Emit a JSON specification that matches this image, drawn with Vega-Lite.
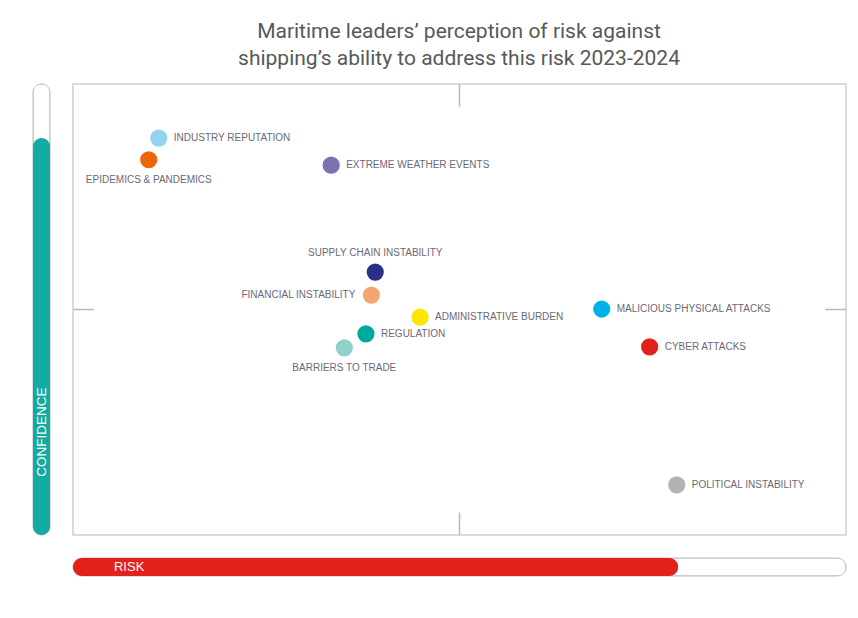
{
  "$schema": "https://vega.github.io/schema/vega-lite/v6.json",
  "background": "white",
  "padding": {"left": 32, "top": 20, "right": 13, "bottom": 10},
  "config": {"view": {"stroke": null}, "font": "Liberation Sans"},
  "title": {
    "text": ["Maritime leaders’ perception of risk against", "shipping’s ability to address this risk 2023-2024"],
    "font": "Roboto",
    "fontSize": 21,
    "fontWeight": "normal",
    "color": "#58585a",
    "anchor": "middle",
    "lineHeight": 27,
    "dx": 19,
    "offset": 14
  },
  "datasets": {
    "risks": [
      {"name": "INDUSTRY REPUTATION", "risk": 11.1, "confidence": 88.0},
      {"name": "EPIDEMICS & PANDEMICS", "risk": 9.8, "confidence": 83.2},
      {"name": "EXTREME WEATHER EVENTS", "risk": 33.4, "confidence": 82.0},
      {"name": "SUPPLY CHAIN INSTABILITY", "risk": 39.1, "confidence": 58.3},
      {"name": "FINANCIAL INSTABILITY", "risk": 38.6, "confidence": 53.2},
      {"name": "ADMINISTRATIVE BURDEN", "risk": 44.9, "confidence": 48.3},
      {"name": "REGULATION", "risk": 37.9, "confidence": 44.6},
      {"name": "BARRIERS TO TRADE", "risk": 35.1, "confidence": 41.5},
      {"name": "MALICIOUS PHYSICAL ATTACKS", "risk": 68.4, "confidence": 50.1},
      {"name": "CYBER ATTACKS", "risk": 74.6, "confidence": 41.7},
      {"name": "POLITICAL INSTABILITY", "risk": 78.1, "confidence": 11.1}
    ],
    "cross": [
      {"x": 50, "x2": 50, "y": 100, "y2": 95},
      {"x": 50, "x2": 50, "y": 0, "y2": 5},
      {"x": 0, "x2": 2.7, "y": 50, "y2": 50},
      {"x": 97.3, "x2": 100, "y": 50, "y2": 50}
    ],
    "confidence": [{"label": "CONFIDENCE", "total": 100, "value": 88}],
    "riskbar": [{"label": "RISK", "total": 100, "value": 78.3}]
  },
  "spacing": 20,
  "hconcat": [
    {
      "width": 17,
      "height": 451,
      "data": {"name": "confidence"},
      "encoding": {
        "x": {"field": "label", "type": "nominal", "axis": null, "scale": {"paddingInner": 0, "paddingOuter": 0}}
      },
      "layer": [
        {
          "mark": {"type": "bar", "fill": "white", "stroke": "#bdbdbd", "strokeWidth": 1, "cornerRadius": 8.5},
          "encoding": {
            "y": {"field": "total", "type": "quantitative", "scale": {"domain": [0, 100]}, "axis": null}
          }
        },
        {
          "mark": {"type": "bar", "fill": "#12aba1", "cornerRadius": 8.5},
          "encoding": {
            "y": {"field": "value", "type": "quantitative", "scale": {"domain": [0, 100]}, "axis": null}
          }
        },
        {
          "mark": {"type": "text", "angle": 270, "align": "center", "baseline": "middle", "fontSize": 13.5, "fill": "white"},
          "encoding": {
            "y": {"datum": 22.8, "type": "quantitative", "scale": {"domain": [0, 100]}, "axis": null},
            "text": {"field": "label"}
          }
        }
      ]
    },
    {
      "spacing": 20,
      "vconcat": [
        {
          "width": 773,
          "height": 451,
          "view": {"stroke": "#cfcfcf", "strokeWidth": 1.5},
          "data": {"name": "risks"},
          "layer": [
            {
              "data": {"name": "cross"},
              "mark": {"type": "rule", "color": "#b8b8b8", "strokeWidth": 1.5},
              "encoding": {
                "x": {"field": "x", "type": "quantitative", "scale": {"domain": [0, 100]}, "axis": null},
                "x2": {"field": "x2"},
                "y": {"field": "y", "type": "quantitative", "scale": {"domain": [0, 100]}, "axis": null},
                "y2": {"field": "y2"}
              }
            },
            {
              "mark": {"type": "circle", "size": 295, "opacity": 1},
              "encoding": {
                "x": {"field": "risk", "type": "quantitative", "scale": {"domain": [0, 100]}, "axis": null},
                "y": {"field": "confidence", "type": "quantitative", "scale": {"domain": [0, 100]}, "axis": null},
                "color": {
                  "field": "name", "type": "nominal", "legend": null,
                  "scale": {
                    "domain": ["INDUSTRY REPUTATION", "EPIDEMICS & PANDEMICS", "EXTREME WEATHER EVENTS", "SUPPLY CHAIN INSTABILITY", "FINANCIAL INSTABILITY", "ADMINISTRATIVE BURDEN", "REGULATION", "BARRIERS TO TRADE", "MALICIOUS PHYSICAL ATTACKS", "CYBER ATTACKS", "POLITICAL INSTABILITY"],
                    "range": ["#92d3f0", "#ec6608", "#7d70b3", "#2b3186", "#f4a672", "#ffe600", "#00a99d", "#92d0cb", "#00b1e7", "#e2211c", "#b2b2b2"]
                  }
                }
              }
            },
            {
              "transform": [{"filter": {"field": "name", "oneOf": ["INDUSTRY REPUTATION", "EXTREME WEATHER EVENTS", "ADMINISTRATIVE BURDEN", "REGULATION", "MALICIOUS PHYSICAL ATTACKS", "CYBER ATTACKS", "POLITICAL INSTABILITY"]}}],
              "mark": {"type": "text", "align": "left", "baseline": "middle", "dx": 15, "fontSize": 10, "fill": "#6b6878"},
              "encoding": {
                "x": {"field": "risk", "type": "quantitative"},
                "y": {"field": "confidence", "type": "quantitative"},
                "text": {"field": "name"}
              }
            },
            {
              "transform": [{"filter": {"field": "name", "oneOf": ["FINANCIAL INSTABILITY"]}}],
              "mark": {"type": "text", "align": "right", "baseline": "middle", "dx": -16, "fontSize": 10, "fill": "#6b6878"},
              "encoding": {
                "x": {"field": "risk", "type": "quantitative"},
                "y": {"field": "confidence", "type": "quantitative"},
                "text": {"field": "name"}
              }
            },
            {
              "transform": [{"filter": {"field": "name", "oneOf": ["SUPPLY CHAIN INSTABILITY"]}}],
              "mark": {"type": "text", "align": "center", "baseline": "middle", "dy": -19, "fontSize": 10, "fill": "#6b6878"},
              "encoding": {
                "x": {"field": "risk", "type": "quantitative"},
                "y": {"field": "confidence", "type": "quantitative"},
                "text": {"field": "name"}
              }
            },
            {
              "transform": [{"filter": {"field": "name", "oneOf": ["EPIDEMICS & PANDEMICS", "BARRIERS TO TRADE"]}}],
              "mark": {"type": "text", "align": "center", "baseline": "middle", "dy": 20, "fontSize": 10, "fill": "#6b6878"},
              "encoding": {
                "x": {"field": "risk", "type": "quantitative"},
                "y": {"field": "confidence", "type": "quantitative"},
                "text": {"field": "name"}
              }
            }
          ]
        },
        {
          "width": 773,
          "height": 18,
          "data": {"name": "riskbar"},
          "encoding": {
            "y": {"field": "label", "type": "nominal", "axis": null, "scale": {"paddingInner": 0, "paddingOuter": 0}}
          },
          "layer": [
            {
              "mark": {"type": "bar", "fill": "white", "stroke": "#bdbdbd", "strokeWidth": 1, "cornerRadius": 9},
              "encoding": {
                "x": {"field": "total", "type": "quantitative", "scale": {"domain": [0, 100]}, "axis": null}
              }
            },
            {
              "mark": {"type": "bar", "fill": "#e2211c", "cornerRadius": 9},
              "encoding": {
                "x": {"field": "value", "type": "quantitative", "scale": {"domain": [0, 100]}, "axis": null}
              }
            },
            {
              "mark": {"type": "text", "align": "left", "baseline": "middle", "fontSize": 13, "fill": "white"},
              "encoding": {
                "x": {"datum": 5.3, "type": "quantitative", "scale": {"domain": [0, 100]}, "axis": null},
                "text": {"field": "label"}
              }
            }
          ]
        }
      ]
    }
  ]
}
